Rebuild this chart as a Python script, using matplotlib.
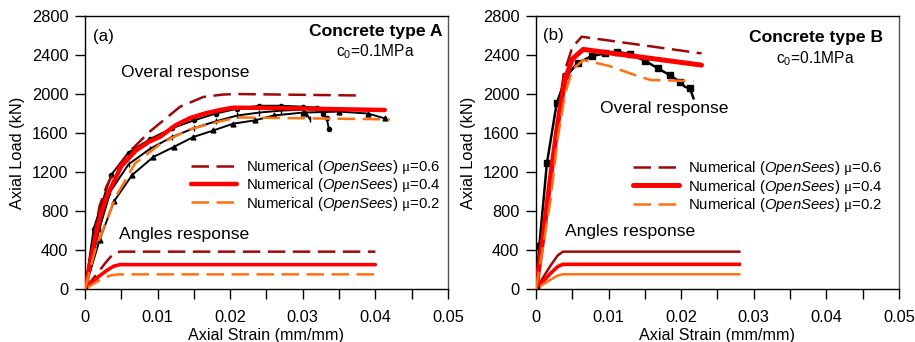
import matplotlib
matplotlib.use("Agg")
import matplotlib.pyplot as plt
from matplotlib.ticker import MultipleLocator, FuncFormatter

plt.rcParams["font.family"] = ["Liberation Sans", "DejaVu Sans"]
plt.rcParams["mathtext.fontset"] = "custom"
plt.rcParams["mathtext.it"] = "Liberation Sans:italic"
plt.rcParams["mathtext.rm"] = "Liberation Serif"
plt.rcParams["mathtext.sf"] = "Liberation Sans"

# ---------------- Concrete type A ----------------
# numerical overall response (strain, load kN)
a_mu06_x = [0, 0.001, 0.002, 0.003, 0.004, 0.006, 0.009, 0.0131, 0.0163, 0.019, 0.021, 0.0381]
a_mu06_y = [0, 430, 850, 1060, 1200, 1400, 1620, 1870, 1970, 1995, 2000, 1985]
a_mu04_x = [0, 0.001, 0.002, 0.003, 0.005, 0.007, 0.0088, 0.0103, 0.0125, 0.0145, 0.0165, 0.0186, 0.0204, 0.025, 0.0413]
a_mu04_y = [0, 370, 720, 950, 1260, 1420, 1510, 1560, 1680, 1754, 1800, 1836, 1860, 1858, 1836]
a_mu02_x = [0, 0.0014, 0.0042, 0.0069, 0.0106, 0.0145, 0.0186, 0.021, 0.042]
a_mu02_y = [0, 400, 940, 1290, 1500, 1640, 1720, 1760, 1740]
# experimental overall response
a_exp1_x = [0, 0.0012, 0.0036, 0.006, 0.009, 0.012, 0.015, 0.018, 0.021, 0.024, 0.027, 0.030, 0.032, 0.0328, 0.0333, 0.0336]
a_exp1_y = [0, 620, 1170, 1400, 1540, 1650, 1730, 1800, 1850, 1880, 1880, 1870, 1860, 1800, 1750, 1640]
a_exp2_x = [0, 0.002, 0.0035, 0.006, 0.009, 0.012, 0.015, 0.018, 0.021, 0.024, 0.027, 0.030, 0.0305, 0.031]
a_exp2_y = [0, 620, 1000, 1280, 1440, 1560, 1650, 1720, 1780, 1810, 1830, 1840, 1800, 1740]
a_exp3_x = [0, 0.002, 0.004, 0.0065, 0.0094, 0.0122, 0.0149, 0.0177, 0.0204, 0.0234, 0.026, 0.030, 0.035, 0.039, 0.0413]
a_exp3_y = [0, 500, 900, 1170, 1354, 1456, 1559, 1627, 1696, 1730, 1780, 1810, 1820, 1800, 1750]
# numerical angles response
a_ang06_x = [0, 0.001, 0.002, 0.003, 0.0039, 0.0048, 0.040]
a_ang06_y = [0, 95, 190, 285, 360, 383, 383]
a_ang04_x = [0, 0.001, 0.002, 0.003, 0.0039, 0.0048, 0.040]
a_ang04_y = [0, 70, 135, 190, 232, 250, 250]
a_ang02_x = [0, 0.001, 0.002, 0.003, 0.0036, 0.0046, 0.040]
a_ang02_y = [0, 45, 90, 125, 140, 150, 150]

# ---------------- Concrete type B ----------------
b_mu06_x = [0, 0.001, 0.002, 0.003, 0.0038, 0.005, 0.0063, 0.0228]
b_mu06_y = [0, 560, 1180, 1750, 2200, 2480, 2588, 2417]
b_mu04_x = [0, 0.001, 0.002, 0.003, 0.004, 0.005, 0.0065, 0.0228]
b_mu04_y = [0, 550, 1150, 1700, 2150, 2360, 2458, 2297]
b_mu02_x = [0, 0.001, 0.002, 0.003, 0.004, 0.005, 0.0065, 0.010, 0.0134, 0.0158, 0.0217]
b_mu02_y = [0, 450, 913, 1550, 2000, 2250, 2349, 2290, 2201, 2144, 2133]
b_exp_x = [0, 0.00046, 0.0015, 0.00285, 0.0042, 0.0058, 0.0077, 0.0095, 0.0111, 0.0129, 0.015, 0.0168,
           0.0184, 0.0198, 0.0205, 0.0212, 0.0217]
b_exp_y = [0, 444, 1289, 1905, 2188, 2321, 2390, 2417, 2435, 2410, 2342, 2263,
           2195, 2126, 2075, 2058, 1956]
b_ang06_x = [0, 0.001, 0.002, 0.003, 0.0037, 0.028]
b_ang06_y = [0, 120, 240, 345, 383, 383]
b_ang04_x = [0, 0.001, 0.002, 0.003, 0.0037, 0.028]
b_ang04_y = [0, 80, 160, 230, 253, 253]
b_ang02_x = [0, 0.001, 0.002, 0.003, 0.0037, 0.028]
b_ang02_y = [0, 48, 95, 138, 151, 151]

y_ticks = [0, 400, 800, 1200, 1600, 2000, 2400, 2800]

C06 = "#A00808"
C04 = "#FF0000"
C02 = "#FF7010"

LAB06 = r"Numerical ($\mathit{OpenSees}$) $\mathrm{\mu}$=0.6"
LAB04 = r"Numerical ($\mathit{OpenSees}$) $\mathrm{\mu}$=0.4"
LAB02 = r"Numerical ($\mathit{OpenSees}$) $\mathrm{\mu}$=0.2"

DASH = (0, (7, 3))

fig = plt.figure(figsize=(9.15, 3.42), dpi=100)
ax_a = fig.add_axes([0.0929, 0.155, 0.3967, 0.798])
ax_b = fig.add_axes([0.5858, 0.155, 0.3967, 0.798])


def strain_label(v, pos):
    if abs(round(v / 0.01) * 0.01 - v) > 1e-9:
        return ""
    return "0" if abs(v) < 1e-9 else f"{v:.2f}"


def style_axes(ax):
    ax.set_xlim(0, 0.05)
    ax.set_ylim(0, 2800)
    ax.xaxis.set_major_locator(MultipleLocator(0.005))
    ax.xaxis.set_major_formatter(FuncFormatter(strain_label))
    ax.set_yticks(y_ticks)
    ax.tick_params(direction="out", length=7, width=1, labelsize=11.8)
    ax.tick_params(axis="y", pad=5)
    ax.tick_params(axis="x", pad=8)
    for s in ax.spines.values():
        s.set_linewidth(1.0)
    ax.spines["right"].set_color("#555555")
    ax.set_xlabel("Axial Strain (mm/mm)", fontsize=11.6, labelpad=2)
    ax.set_ylabel("Axial Load (kN)", fontsize=11.8, labelpad=5)


def add_legend(ax, handles, anchor):
    ax.legend(handles, [LAB06, LAB04, LAB02], loc="upper left", bbox_to_anchor=anchor,
              frameon=False, fontsize=10.7, handlelength=3.1, handletextpad=0.6,
              labelspacing=0.02, borderpad=0, borderaxespad=0)


# panel (a)
ax = ax_a
ax.plot(a_exp1_x, a_exp1_y, color="black", lw=1.4, marker="o", ms=3, zorder=3)
ax.plot(a_exp2_x, a_exp2_y, color="black", lw=1.4, marker="|", ms=4, zorder=3)
ax.plot(a_exp3_x, a_exp3_y, color="black", lw=1.4, marker="^", ms=3.5, zorder=3)
l06, = ax.plot(a_mu06_x, a_mu06_y, color=C06, lw=1.8, ls=DASH, zorder=4)
l04, = ax.plot(a_mu04_x, a_mu04_y, color=C04, lw=3.2, solid_capstyle="round", zorder=4)
l02, = ax.plot(a_mu02_x, a_mu02_y, color=C02, lw=1.8, ls=DASH, zorder=4)
ax.plot(a_ang06_x, a_ang06_y, color=C06, lw=1.8, ls=DASH)
ax.plot(a_ang04_x, a_ang04_y, color=C04, lw=2.6, solid_capstyle="round")
ax.plot(a_ang02_x, a_ang02_y, color=C02, lw=1.8, ls=DASH)
style_axes(ax)
add_legend(ax, [l06, l04, l02], (0.293, 0.48))
ax.text(0.022, 0.925, "(a)", transform=ax.transAxes, fontsize=12.2, va="center")
ax.text(0.985, 0.945, "Concrete type A", transform=ax.transAxes, fontsize=12.6, fontweight="bold",
        ha="right", va="center")
ax.text(0.8, 0.868, r"c$_\mathsf{0}$=0.1MPa", transform=ax.transAxes, fontsize=11.2, ha="center", va="center")
ax.text(0.1, 0.795, "Overal response", transform=ax.transAxes, fontsize=12.6, va="center")
ax.text(0.095, 0.2, "Angles response", transform=ax.transAxes, fontsize=12.6, va="center")

# panel (b)
ax = ax_b
ax.plot(b_exp_x, b_exp_y, color="black", lw=1.8, marker="s", ms=4, markevery=list(range(0, 14)) + [15],
        zorder=3)
m06, = ax.plot(b_mu06_x, b_mu06_y, color=C06, lw=1.8, ls=DASH, zorder=4)
m04, = ax.plot(b_mu04_x, b_mu04_y, color=C04, lw=3.6, solid_capstyle="round", zorder=4)
m02, = ax.plot(b_mu02_x, b_mu02_y, color=C02, lw=1.8, ls=DASH, zorder=4)
ax.plot(b_ang06_x, b_ang06_y, color=C06, lw=1.8)
ax.plot(b_ang04_x, b_ang04_y, color=C04, lw=2.6)
ax.plot(b_ang02_x, b_ang02_y, color=C02, lw=1.8)
style_axes(ax)
add_legend(ax, [m06, m04, m02], (0.267, 0.475))
ax.text(0.02, 0.93, "(b)", transform=ax.transAxes, fontsize=12.2, va="center")
ax.text(0.955, 0.92, "Concrete type B", transform=ax.transAxes, fontsize=12.6, fontweight="bold",
        ha="right", va="center")
ax.text(0.77, 0.845, r"c$_\mathsf{0}$=0.1MPa", transform=ax.transAxes, fontsize=11.2, ha="center", va="center")
ax.text(0.175, 0.66, "Overal response", transform=ax.transAxes, fontsize=12.6, va="center")
ax.text(0.08, 0.212, "Angles response", transform=ax.transAxes, fontsize=12.6, va="center")

fig.savefig("out.png", dpi=100)
